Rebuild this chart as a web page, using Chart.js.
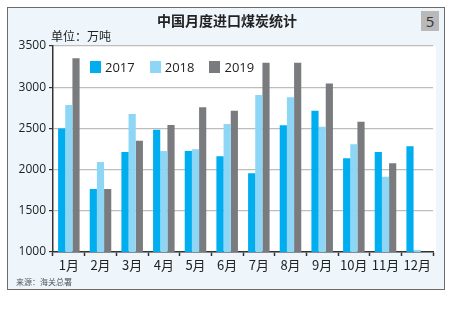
<!DOCTYPE html>
<html>
<head>
<meta charset="utf-8">
<script src="https://cdn.jsdelivr.net/npm/chart.js@4"></script>
<style>
  body { margin: 0; background: #fff; font-family: "Noto Sans CJK SC", "Noto Sans", sans-serif; }
  #wrap { position: relative; width: 454px; height: 322px; }
  #frame { position: absolute; left: 7px; top: 7px; width: 438px; height: 283px; border: 1px solid #6b6b6b; background: #eef6fc; box-sizing: border-box; }
  #chart { position: absolute; left: 0; top: 0; }
  .txt { position: absolute; white-space: nowrap; color: #222; }
  #title { left: 0; width: 454px; top: 10px; text-align: center; font-size: 14px; font-weight: bold; }
  #badge { left: 421px; top: 11px; width: 18px; height: 20px; background: #b9b9b9; text-align: center; line-height: 20px; font-family: "Open Sans", sans-serif; font-size: 15px; color: #333; }
  #unit { left: 51px; top: 27px; font-size: 12px; }
  #source { left: 16px; top: 276px; font-size: 8px; color: #555; }
  #legend { position: absolute; left: 90px; top: 58px; display: flex; font-family: "Open Sans", sans-serif; font-size: 13px; color: #222; }
  #legend span.item { display: flex; align-items: center; margin-right: 15px; }
  #legend span.box { display: inline-block; width: 11px; height: 12px; margin-right: 4px; }
</style>
</head>
<body>
<div id="wrap">
  <div id="frame"></div>
  <canvas id="chart" width="454" height="322"></canvas>
  <div class="txt" id="title">中国月度进口煤炭统计</div>
  <div class="txt" id="badge">5</div>
  <div class="txt" id="unit">单位：万吨</div>
  <div class="txt" id="source">来源：海关总署</div>
  <div id="legend"></div>
</div>
<script>
const months = ["1月", "2月", "3月", "4月", "5月", "6月", "7月", "8月", "9月", "10月", "11月", "12月"];
const seriesNames = ["2017", "2018", "2019"];
const values2017 = [2500, 1765, 2215, 2485, 2226, 2161, 1955, 2538, 2715, 2137, 2214, 2283];
const values2018 = [2784, 2093, 2675, 2226, 2247, 2554, 2906, 2878, 2521, 2307, 1914, 1025];
const values2019 = [3351, 1765, 2351, 2542, 2757, 2715, 3298, 3298, 3044, 2582, 2076, null];
const yTicks = [1000, 1500, 2000, 2500, 3000, 3500];
const colors = ["#00aeef", "#8dd6f6", "#7a7b7e"];

// legend in html
let legend = document.getElementById("legend");
seriesNames.forEach((name, i) =>
{
    legend.innerHTML += '<span class="item"><span class="box" style="background:' + colors[i] + '"></span>' + name + '</span>';
});

const plotBg = {
    id: "plotBg",
    beforeDraw(chart)
    {
        let a = chart.chartArea;
        let ctx = chart.ctx;
        ctx.save();
        ctx.fillStyle = "#ffffff";
        ctx.fillRect(a.left, a.top, a.right - a.left + 3, a.bottom - a.top);
        ctx.restore();
    }
};

new Chart(document.getElementById("chart").getContext("2d"),
{
    type: "bar",
    data: {
        labels: months,
        datasets: [values2017, values2018, values2019].map((d, i) => {
            return {
                label: seriesNames[i],
                data: d,
                backgroundColor: colors[i],
                borderWidth: 0,
                categoryPercentage: 0.68,
                barPercentage: 1.0
            };
        })
    },
    options: {
        responsive: false,
        animation: false,
        layout: { padding: { left: 0, right: 21, top: 46, bottom: 45 } },
        plugins: { legend: { display: false }, tooltip: { enabled: false } },
        scales: {
            x: {
                afterFit: (s) => { s.height = 25; },
                grid: { offset: true, drawOnChartArea: false, tickLength: 4, tickColor: "#333", tickWidth: 1.5 },
                border: { color: "#333", width: 1.5 },
                ticks: { color: "#222", font: { family: "Noto Sans CJK SC", size: 13 }, padding: 1, maxRotation: 0, minRotation: 0, autoSkip: false }
            },
            y: {
                min: 1000,
                max: 3500,
                afterFit: (s) => { s.width = 53; },
                afterBuildTicks: (s) => { s.ticks = yTicks.map((v) => { return { value: v }; }); },
                grid: { color: "#bdbdbd", lineWidth: 1.2, tickLength: 4, tickColor: "#333" },
                border: { color: "#333", width: 1.5 },
                ticks: { color: "#222", font: { family: "Open Sans", size: 12 }, padding: 3, callback: (v) => String(v) }
            }
        }
    },
    plugins: [plotBg]
});
</script>
</body>
</html>
